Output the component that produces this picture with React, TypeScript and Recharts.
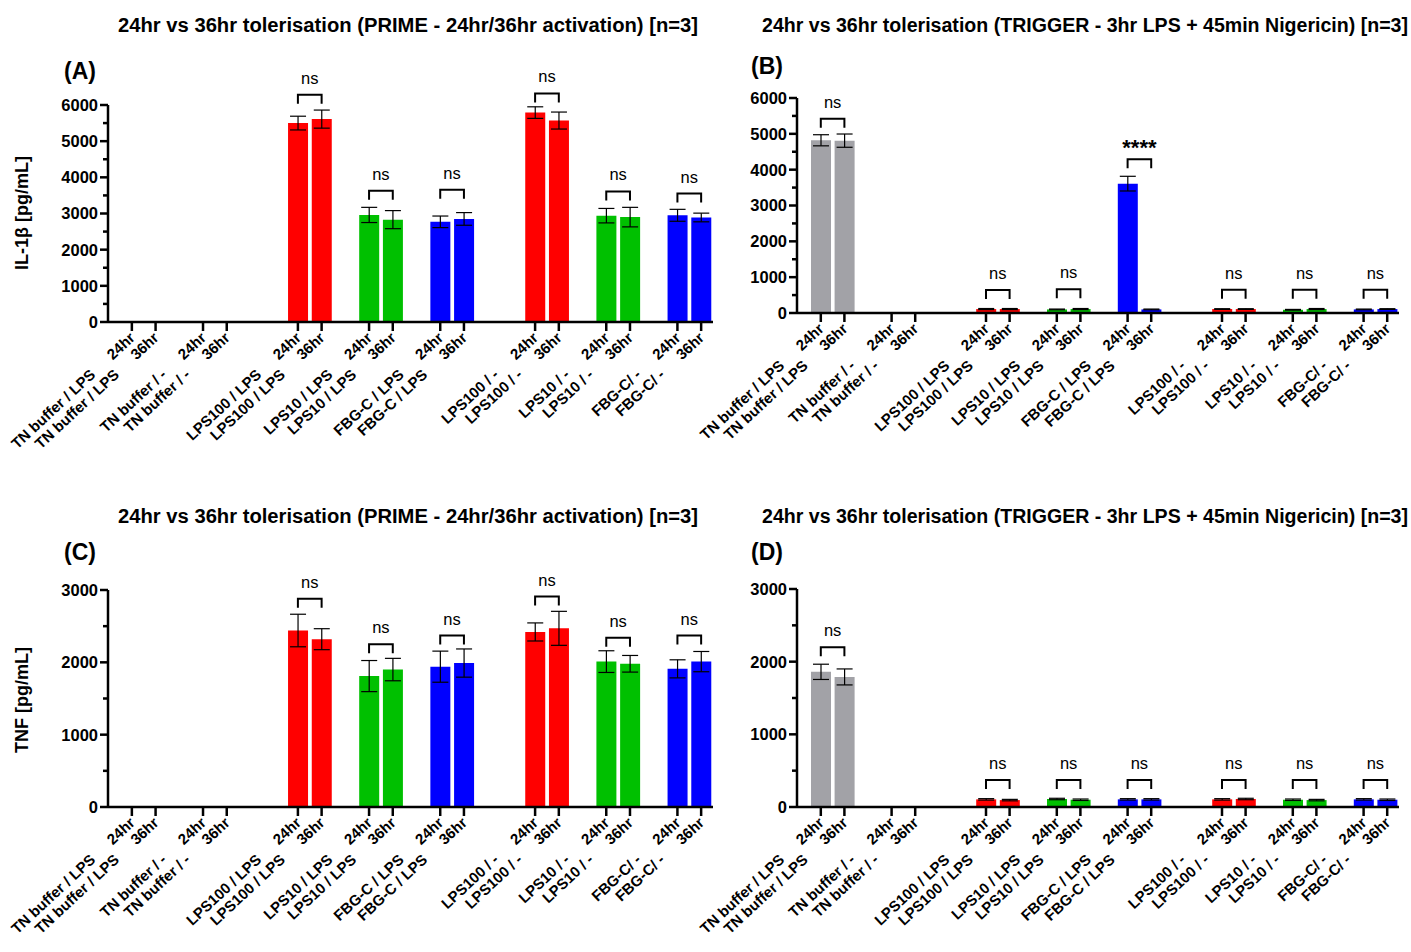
import React from 'react';
import { BarChart, Bar, XAxis, YAxis, ErrorBar, Cell, ReferenceLine } from 'recharts';

const FONT = '"Liberation Sans", Arial, sans-serif';

// Categories
const groupNames = ['TN buffer / LPS', 'TN buffer / -', 'LPS100 / LPS', 'LPS10 / LPS', 'FBG-C / LPS', 'LPS100 / -', 'LPS10 / -', 'FBG-C/ -'];
const timepoints = ['24hr', '36hr'];
const spacersBefore = [0, 1, 2, 1, 1, 2, 1, 1];

const RED = '#FF0000';
const GREEN = '#00C000';
const BLUE = '#0000FF';
const GRAY = '#A2A2A7';
const groupColors = [GRAY, GRAY, RED, GREEN, BLUE, RED, GREEN, BLUE];

// Panel A: IL-1b, PRIME
const il1bPrime24 = [0, 0, 5500, 2960, 2770, 5790, 2940, 2950];
const il1bPrime24Err = [0, 0, 190, 210, 160, 160, 200, 165];
const il1bPrime36 = [0, 0, 5610, 2830, 2850, 5570, 2900, 2890];
const il1bPrime36Err = [0, 0, 250, 250, 175, 235, 270, 120];
const il1bPrimeBrackets = [
  { g: 2, y: 6280, label: 'ns' },
  { g: 3, y: 3630, label: 'ns' },
  { g: 4, y: 3660, label: 'ns' },
  { g: 5, y: 6320, label: 'ns' },
  { g: 6, y: 3610, label: 'ns' },
  { g: 7, y: 3550, label: 'ns' },
];

// Panel B: IL-1b, TRIGGER
const il1bTrig24 = [4820, 0, 110, 100, 3610, 110, 90, 100];
const il1bTrig24Err = [155, 0, 15, 10, 205, 10, 10, 10];
const il1bTrig36 = [4810, 0, 110, 110, 100, 110, 110, 110];
const il1bTrig36Err = [185, 0, 15, 15, 10, 10, 15, 10];
const il1bTrigBrackets = [
  { g: 0, y: 5420, label: 'ns' },
  { g: 2, y: 640, label: 'ns' },
  { g: 3, y: 660, label: 'ns' },
  { g: 4, y: 4290, label: '****' },
  { g: 5, y: 650, label: 'ns' },
  { g: 6, y: 650, label: 'ns' },
  { g: 7, y: 650, label: 'ns' },
];

// Panel C: TNF, PRIME
const tnfPrime24 = [0, 0, 2440, 1810, 1940, 2420, 2010, 1910];
const tnfPrime24Err = [0, 0, 225, 215, 215, 125, 150, 125];
const tnfPrime36 = [0, 0, 2320, 1900, 1990, 2470, 1980, 2010];
const tnfPrime36Err = [0, 0, 145, 155, 195, 235, 115, 140];
const tnfPrimeBrackets = [
  { g: 2, y: 2880, label: 'ns' },
  { g: 3, y: 2250, label: 'ns' },
  { g: 4, y: 2370, label: 'ns' },
  { g: 5, y: 2910, label: 'ns' },
  { g: 6, y: 2340, label: 'ns' },
  { g: 7, y: 2370, label: 'ns' },
];

// Panel D: TNF, TRIGGER
const tnfTrig24 = [1860, 0, 105, 110, 105, 105, 100, 105];
const tnfTrig24Err = [105, 0, 10, 10, 10, 10, 10, 10];
const tnfTrig36 = [1790, 0, 95, 100, 105, 110, 95, 100];
const tnfTrig36Err = [110, 0, 10, 10, 10, 10, 10, 10];
const tnfTrigBrackets = [
  { g: 0, y: 2200, label: 'ns' },
  { g: 2, y: 370, label: 'ns' },
  { g: 3, y: 370, label: 'ns' },
  { g: 4, y: 370, label: 'ns' },
  { g: 5, y: 370, label: 'ns' },
  { g: 6, y: 370, label: 'ns' },
  { g: 7, y: 370, label: 'ns' },
];

const il1bTicks = [0, 500, 1000, 1500, 2000, 2500, 3000, 3500, 4000, 4500, 5000, 5500, 6000];
const tnfTicks = [0, 500, 1000, 1500, 2000, 2500, 3000];

const titles = [
  '24hr vs 36hr tolerisation (PRIME - 24hr/36hr activation) [n=3]',
  '24hr vs 36hr tolerisation (TRIGGER - 3hr LPS + 45min Nigericin) [n=3]',
];

type Row = { key: string; name: string; time: string; value: number | null; err: number | null; color: string };

function buildRows(v24: number[], e24: number[], v36: number[], e36: number[]): Row[] {
  const rows: Row[] = [];
  groupNames.forEach((g, gi) => {
    for (let s = 0; s < spacersBefore[gi]; s++) {
      rows.push({ key: `gap${gi}-${s}`, name: '', time: '', value: null, err: null, color: 'none' });
    }
    const vals = [v24[gi], v36[gi]];
    const errs = [e24[gi], e36[gi]];
    timepoints.forEach((t, ti) => {
      rows.push({
        key: `${gi}-${t}`,
        name: g,
        time: t,
        value: vals[ti],
        err: vals[ti] ? errs[ti] : null,
        color: groupColors[gi],
      });
    });
  });
  return rows;
}

const YTick = (props: any) => {
  const { x, y, payload } = props;
  const v = payload.value;
  const major = v % 1000 === 0;
  return (
    <g>
      <line x1={x - (major ? 8 : 5)} x2={x} y1={y} y2={y} stroke="#000" strokeWidth={2.5} />
      {major && (
        <text x={x - 10} y={y} dy="0.36em" textAnchor="end" fontSize={16.5} fontWeight="bold" fill="#000" fontFamily={FONT}>
          {v}
        </text>
      )}
    </g>
  );
};

const makeXTick = (rows: Row[]) => (props: any) => {
  const { x, y, payload } = props;
  const row = rows.find((r) => r.key === payload.value);
  if (!row || !row.name) return <g />;
  return (
    <g>
      <line x1={x} x2={x} y1={y} y2={y + 9} stroke="#000" strokeWidth={2.5} />
      <g transform={`translate(${x + 4},${y + 17}) rotate(-43)`}>
        <text x={0} y={0} textAnchor="end" fontSize={15} fontWeight="bold" fill="#000" fontFamily={FONT}>
          {row.time}
        </text>
        <text x={-54} y={0} textAnchor="end" fontSize={15} fontWeight="bold" fill="#000" fontFamily={FONT}>
          {row.name}
        </text>
      </g>
    </g>
  );
};

const bracketShape = (label: string) => (p: any) => {
  const { x1, y1, x2 } = p;
  const stars = label !== 'ns';
  return (
    <g>
      <path d={`M${x1},${y1 + 9} V${y1} H${x2} V${y1 + 9}`} stroke="#000" strokeWidth={2} fill="none" />
      <text
        x={(x1 + x2) / 2}
        y={stars ? y1 - 4 : y1 - 11}
        textAnchor="middle"
        fontSize={stars ? 22 : 16.5}
        fontWeight={stars ? 'bold' : 'normal'}
        fill="#000"
        fontFamily={FONT}
      >
        {label}
      </text>
    </g>
  );
};

type PanelProps = {
  rows: Row[];
  brackets: { g: number; y: number; label: string }[];
  ticks: number[];
  max: number;
  margin: { top: number; right: number; bottom: number; left: number };
  xHeight: number;
};

const Panel = ({ rows, brackets, ticks, max, margin, xHeight }: PanelProps) => (
  <div style={{ position: 'absolute', left: 0, top: 0 }}>
    <BarChart width={1411} height={952} data={rows} margin={margin} barCategoryGap={0}>
      <XAxis
        dataKey="key"
        type="category"
        interval={0}
        tick={makeXTick(rows)}
        tickLine={false}
        tickSize={0}
        tickMargin={0}
        height={xHeight}
        padding={{ left: 12, right: 0 }}
        axisLine={{ stroke: '#000', strokeWidth: 2.5 }}
      />
      <YAxis
        type="number"
        domain={[0, max]}
        ticks={ticks}
        interval={0}
        width={60}
        tick={<YTick />}
        tickLine={false}
        tickSize={0}
        tickMargin={0}
        axisLine={{ stroke: '#000', strokeWidth: 2.5 }}
        allowDataOverflow
      />
      <Bar dataKey="value" barSize={20} isAnimationActive={false}>
        {rows.map((r) => (
          <Cell key={r.key} fill={r.color} />
        ))}
        <ErrorBar dataKey="err" width={8} stroke="#000" strokeWidth={1.2} direction="y" />
      </Bar>
      {brackets.map((b) => (
        <ReferenceLine
          key={`br-${b.g}`}
          segment={[
            { x: `${b.g}-24hr`, y: b.y },
            { x: `${b.g}-36hr`, y: b.y },
          ]}
          ifOverflow="visible"
          shape={bracketShape(b.label)}
        />
      ))}
    </BarChart>
  </div>
);

const rowsA = buildRows(il1bPrime24, il1bPrime24Err, il1bPrime36, il1bPrime36Err);
const rowsB = buildRows(il1bTrig24, il1bTrig24Err, il1bTrig36, il1bTrig36Err);
const rowsC = buildRows(tnfPrime24, tnfPrime24Err, tnfPrime36, tnfPrime36Err);
const rowsD = buildRows(tnfTrig24, tnfTrig24Err, tnfTrig36, tnfTrig36Err);

export default function App() {
  return (
    <div style={{ position: 'absolute', left: 0, top: 0, width: 1411, height: 952, background: '#fff', fontFamily: FONT }}>
      <Panel rows={rowsA} brackets={il1bPrimeBrackets} ticks={il1bTicks} max={6000}
        margin={{ top: 105, right: 698, bottom: 480, left: 48 }} xHeight={150} />
      <Panel rows={rowsB} brackets={il1bTrigBrackets} ticks={il1bTicks} max={6000}
        margin={{ top: 98, right: 12, bottom: 489, left: 737 }} xHeight={150} />
      <Panel rows={rowsC} brackets={tnfPrimeBrackets} ticks={tnfTicks} max={3000}
        margin={{ top: 590, right: 698, bottom: 5, left: 48 }} xHeight={140} />
      <Panel rows={rowsD} brackets={tnfTrigBrackets} ticks={tnfTicks} max={3000}
        margin={{ top: 589, right: 12, bottom: 5, left: 737 }} xHeight={140} />
      <svg width={1411} height={952} style={{ position: 'absolute', left: 0, top: 0, pointerEvents: 'none' }}>
        <g fontFamily={FONT} fontWeight="bold" fill="#000">
          <text x={118} y={32} fontSize={19.5} textLength={580} lengthAdjust="spacingAndGlyphs">{titles[0]}</text>
          <text x={762} y={32} fontSize={19.5} textLength={646} lengthAdjust="spacingAndGlyphs">{titles[1]}</text>
          <text x={118} y={523} fontSize={19.5} textLength={580} lengthAdjust="spacingAndGlyphs">{titles[0]}</text>
          <text x={762} y={523} fontSize={19.5} textLength={646} lengthAdjust="spacingAndGlyphs">{titles[1]}</text>
          <text x={64} y={79} fontSize={23}>(A)</text>
          <text x={751} y={74} fontSize={23}>(B)</text>
          <text x={64} y={560} fontSize={23}>(C)</text>
          <text x={751} y={560} fontSize={23}>(D)</text>
          <text transform="translate(28,213) rotate(-90)" textAnchor="middle" fontSize={18}>IL-1β [pg/mL]</text>
          <text transform="translate(28,700) rotate(-90)" textAnchor="middle" fontSize={18}>TNF [pg/mL]</text>
        </g>
      </svg>
    </div>
  );
}
